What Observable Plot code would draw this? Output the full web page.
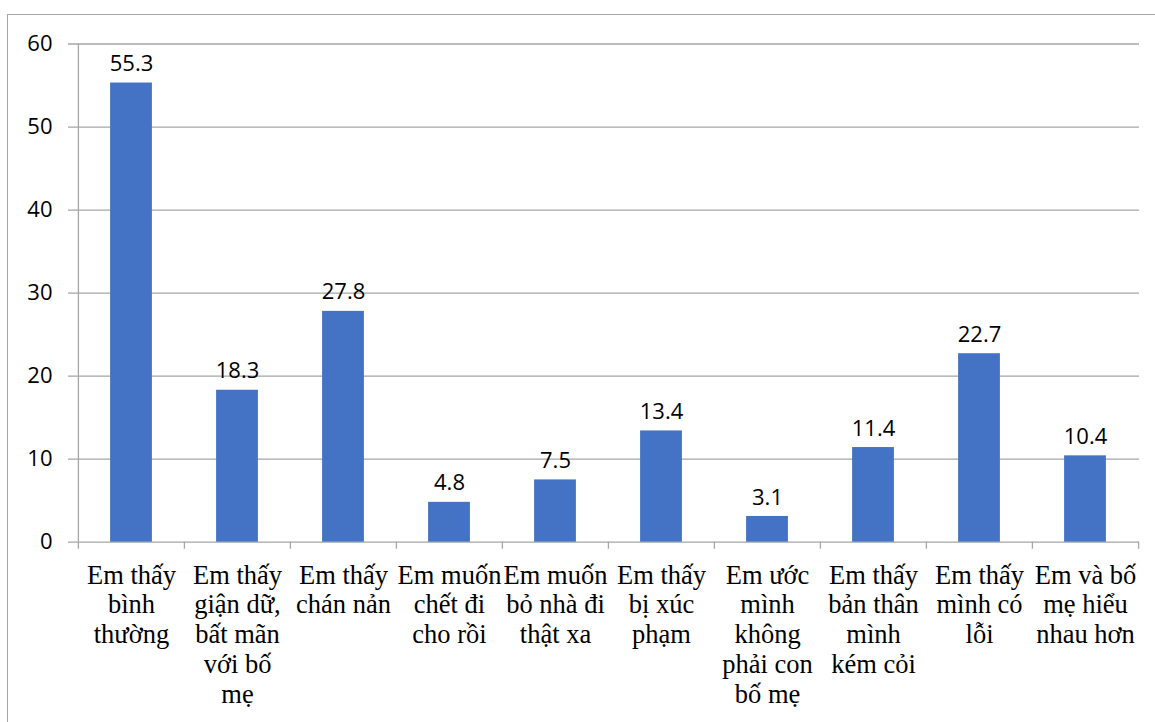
<!DOCTYPE html>
<html>
<head>
<meta charset="utf-8">
<script src="https://cdn.jsdelivr.net/npm/d3@7"></script>
<script src="https://cdn.jsdelivr.net/npm/@observablehq/plot@0.6"></script>
<style>
  html, body { margin: 0; padding: 0; background: #fff; overflow: hidden; }
  #wrap { position: relative; width: 1155px; height: 722px; overflow: hidden; }
  #border { position: absolute; left: 7px; top: 14px; width: 1300px; height: 900px; border: 1.5px solid #a6a6a6; box-sizing: border-box; }
  #chart { position: absolute; left: 0; top: 0; }
  #chart svg { overflow: visible; }
</style>
</head>
<body>
<div id="wrap">
  <div id="border"></div>
  <div id="chart"></div>
</div>
<script>
const categories = [
  "Em thấy\nbình\nthường",
  "Em thấy\ngiận dữ,\nbất mãn\nvới bố\nmẹ",
  "Em thấy\nchán nản",
  "Em muốn\nchết đi\ncho rồi",
  "Em muốn\nbỏ nhà đi\nthật xa",
  "Em thấy\nbị xúc\nphạm",
  "Em ước\nmình\nkhông\nphải con\nbố mẹ",
  "Em thấy\nbản thân\nmình\nkém cỏi",
  "Em thấy\nmình có\nlỗi",
  "Em và bố\nmẹ hiểu\nnhau hơn"
];
const values = [55.3, 18.3, 27.8, 4.8, 7.5, 13.4, 3.1, 11.4, 22.7, 10.4];
const yTicks = [0, 10, 20, 30, 40, 50, 60];

const data = categories.map((c, i) => ({category: c, value: values[i]}));

const W = 1155, H = 722;
const mL = 77, mR = 16, mT = 43.5, mB = 180.3;
const bw = (W - mL - mR) / categories.length;
const barW = 42;
const inset = (bw - barW) / 2;
const gridColor = "#a6a6a6";
const sans = "'Open Sans', 'Liberation Sans', sans-serif";
const serif = "'Liberation Serif', 'DejaVu Serif', serif";
const xFont = 26.5;

const chart = Plot.plot({
  width: W,
  height: H,
  marginLeft: mL,
  marginRight: mR,
  marginTop: mT,
  marginBottom: mB,
  x: {type: "band", domain: categories, padding: 0, axis: null},
  y: {domain: [0, 60], axis: null},
  marks: [
    Plot.ruleY(yTicks, {y: d => d, stroke: gridColor, strokeWidth: 1.3, insetLeft: -9}),
    Plot.ruleX([categories[0]], {x: d => d, dx: -bw / 2, y1: 0, y2: 60, stroke: gridColor, strokeWidth: 1.3}),
    Plot.ruleX(categories, {x: d => d, dx: -bw / 2, y1: 0, y2: 0, insetBottom: -7, stroke: gridColor, strokeWidth: 1.3}),
    Plot.ruleX([categories[categories.length - 1]], {x: d => d, dx: bw / 2, y1: 0, y2: 0, insetBottom: -7, stroke: gridColor, strokeWidth: 1.3}),
    Plot.barY(data, {x: "category", y: "value", fill: "#4472C4", insetLeft: inset, insetRight: inset}),
    Plot.text(data, {x: "category", y: "value", text: d => d3.format(".1f")(d.value), dy: -19, fill: "#000", fontSize: 22, fontFamily: sans}),
    Plot.axisY({ticks: yTicks, tickSize: 0, tickPadding: 25, fontSize: 22, fontFamily: sans, color: "#000", label: null}),
    Plot.axisX({tickSize: 0, tickPadding: 20, fontSize: xFont, fontFamily: serif, lineHeight: 30 / xFont, color: "#000", label: null})
  ]
});
document.getElementById("chart").appendChild(chart);
</script>
</body>
</html>
